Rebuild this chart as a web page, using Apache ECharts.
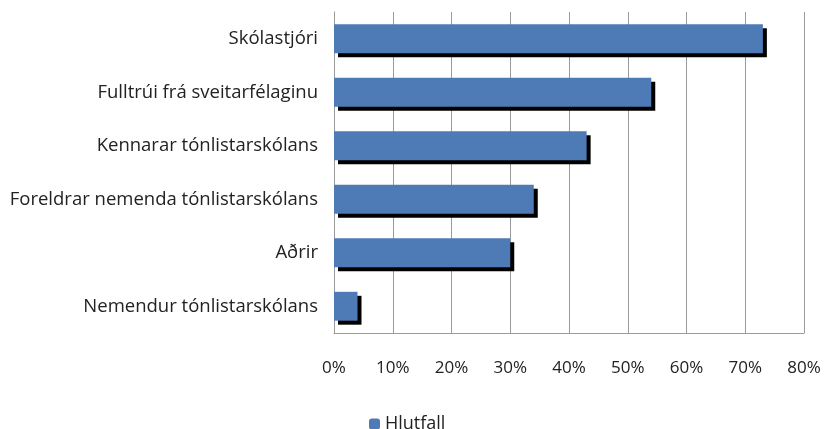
<!DOCTYPE html>
<html>
<head>
<meta charset="utf-8">
<script src="https://cdn.jsdelivr.net/npm/echarts@6/dist/echarts.min.js"></script>
<style>
  html, body { margin: 0; padding: 0; background: #fff; }
  #chart { width: 824px; height: 429px; }
</style>
</head>
<body>
<div id="chart"></div>
<script>
// categories, top to bottom
const categories = [
    'Skólastjóri',
    'Fulltrúi frá sveitarfélaginu',
    'Kennarar tónlistarskólans',
    'Foreldrar nemenda tónlistarskólans',
    'Aðrir',
    'Nemendur tónlistarskólans'
];
// share in %
const hlutfall = [73, 54, 43, 34, 30, 4];
const seriesName = 'Hlutfall';

var myChart = echarts.init(document.getElementById('chart'));
var font = "'Open Sans', sans-serif";

var option = {
    animation: false,
    textStyle: { fontFamily: font },
    grid: {
        left: 334,
        right: 20,
        top: 12,
        bottom: 96
    },
    legend: {
        data: [seriesName],
        left: 364,
        top: 410,
        itemWidth: 11,
        itemHeight: 11,
        itemGap: 6,
        textStyle: { fontSize: 18, color: '#222', fontFamily: font }
    },
    xAxis: {
        type: 'value',
        min: 0,
        max: 80,
        interval: 10,
        axisLine: { show: true, lineStyle: { color: '#9a9a9a' } },
        axisTick: { show: false },
        splitLine: { lineStyle: { color: '#9a9a9a', width: 1 } },
        axisLabel: {
            formatter: (v) => v + '%',
            margin: 27,
            fontSize: 17,
            color: '#222',
            fontFamily: font
        }
    },
    yAxis: {
        type: 'category',
        inverse: true,
        data: categories,
        axisLine: { show: true, lineStyle: { color: '#9a9a9a' } },
        axisTick: { show: false },
        axisLabel: {
            margin: 16,
            fontSize: 18.5,
            color: '#222',
            fontFamily: font
        }
    },
    series: [
        {
            name: seriesName,
            type: 'bar',
            data: hlutfall,
            barWidth: '54%',
            itemStyle: {
                color: '#4e7bb6',
                shadowColor: '#000',
                shadowBlur: 0,
                shadowOffsetX: 4,
                shadowOffsetY: 4
            }
        }
    ]
};

option && myChart.setOption(option);
</script>
</body>
</html>
